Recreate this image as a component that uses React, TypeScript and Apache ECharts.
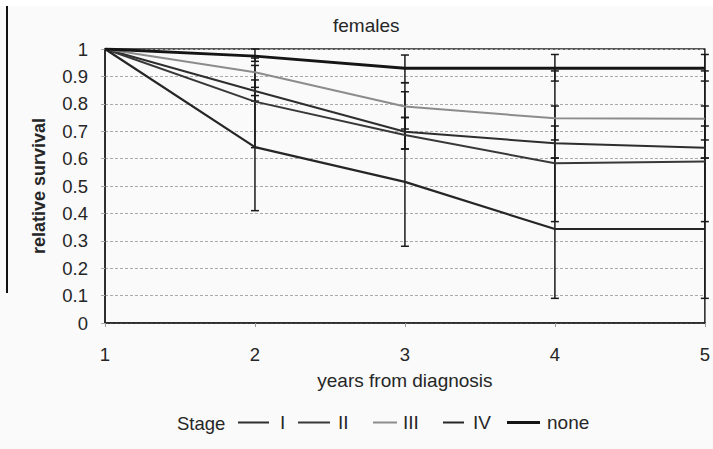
import React, { useEffect, useRef } from "react";
import * as echarts from "echarts";

const years = [1, 2, 3, 4, 5];
const stageNames = ["I", "II", "III", "IV", "none"];
const stageI = [1, 0.847, 0.698, 0.656, 0.64];
const stageII = [1, 0.808, 0.686, 0.583, 0.589];
const stageIII = [1, 0.915, 0.79, 0.747, 0.745];
const stageIV = [1, 0.642, 0.515, 0.343, 0.343];
const stageNone = [1, 0.974, 0.93, 0.93, 0.93];

// error bars: [year, lower, upper]
const errI = [[2, 0.81, 0.887], [3, 0.635, 0.75], [4, 0.602, 0.719], [5, 0.602, 0.719]];
const errII = [[2, 0.64, 0.94], [3, 0.635, 0.844], [4, 0.37, 0.792], [5, 0.37, 0.792]];
const errIII = [[2, 0.86, 0.967], [3, 0.708, 0.877], [4, 0.668, 0.92], [5, 0.668, 0.92]];
const errIV = [[2, 0.41, 0.83], [3, 0.28, 0.75], [4, 0.09, 0.602], [5, 0.09, 0.602]];
const errNone = [[2, 0.955, 1.0], [3, 0.877, 0.978], [4, 0.883, 0.98], [5, 0.883, 0.98]];

const yTicks = [0, 0.1, 0.2, 0.3, 0.4, 0.5, 0.6, 0.7, 0.8, 0.9, 1];

const FONT = "Liberation Sans, Arial, sans-serif";
const TXT = "#262626";

export default function App() {
  const ref = useRef<HTMLDivElement>(null);
  useEffect(() => {
    if (!ref.current) return;
    const chart = echarts.init(ref.current, undefined, { renderer: "svg" });
    const values = [stageI, stageII, stageIII, stageIV, stageNone];
    const errs = [errI, errII, errIII, errIV, errNone];
    const colors = ["#2e2e2e", "#383838", "#8c8c8c", "#262626", "#151515"];
    const widths = [2, 2, 2, 2.2, 3];
    const legendPos = [
      { left: 238, w: 31, pad: 6 },
      { left: 298, w: 32, pad: 3 },
      { left: 373, w: 24, pad: 1 },
      { left: 443, w: 21, pad: 4 },
      { left: 507, w: 33, pad: 2 },
    ];

    const lineSeries = stageNames.map((n, si) => ({
      name: n,
      type: "line",
      data: years.map((x, i) => [x, values[si][i]]),
      symbol: "none",
      color: colors[si],
      lineStyle: { color: colors[si], width: widths[si] },
      z: 3,
    }));

    const errSeries = stageNames.map((n, si) => ({
      name: "err-" + n,
      type: "custom",
      data: errs[si],
      encode: { x: 0, y: [1, 2] },
      z: 2,
      renderItem: (params: any, api: any) => {
        const x = api.value(0);
        const lo = api.coord([x, api.value(1)]);
        const hi = api.coord([x, api.value(2)]);
        const w = 4;
        const st = { stroke: "#1a1a1a", lineWidth: 1.5 };
        return {
          type: "group",
          children: [
            { type: "line", shape: { x1: lo[0], y1: lo[1], x2: hi[0], y2: hi[1] }, style: st },
            { type: "line", shape: { x1: lo[0] - w, y1: lo[1], x2: lo[0] + w, y2: lo[1] }, style: st },
            { type: "line", shape: { x1: hi[0] - w, y1: hi[1], x2: hi[0] + w, y2: hi[1] }, style: st },
          ],
        };
      },
    }));

    const legends = stageNames.map((n, si) => ({
      data: [n],
      left: legendPos[si].left,
      top: 413,
      padding: 0,
      itemWidth: legendPos[si].w,
      itemHeight: si === 4 ? 3 : 2,
      icon: "rect",
      selectedMode: false,
      textStyle: {
        fontSize: 19,
        fontFamily: FONT,
        color: TXT,
        padding: [0, 0, 0, legendPos[si].pad],
      },
    }));

    chart.setOption({
      animation: false,
      backgroundColor: "#fafafa",
      title: {
        text: "females",
        left: 333,
        top: 16,
        padding: 0,
        textStyle: { fontSize: 19, fontWeight: "normal", fontFamily: FONT, color: TXT },
      },
      legend: legends,
      grid: {
        left: 105,
        right: 6,
        top: 49,
        bottom: 126,
        show: true,
        borderColor: "#222",
        borderWidth: 1.5,
        backgroundColor: "transparent",
      },
      xAxis: {
        type: "value",
        min: 1,
        max: 5,
        interval: 1,
        name: "years from diagnosis",
        nameLocation: "middle",
        nameGap: 48,
        nameTextStyle: { fontSize: 19, fontFamily: FONT, color: TXT },
        axisLine: { show: true, lineStyle: { color: "#222", width: 1.5 } },
        axisTick: { show: true, length: 4, lineStyle: { color: "#999" } },
        axisLabel: { fontSize: 18.5, fontFamily: FONT, color: TXT, margin: 22 },
        splitLine: { show: false },
      },
      yAxis: {
        type: "value",
        min: 0,
        max: 1,
        interval: 0.1,
        name: "relative survival",
        nameLocation: "middle",
        nameGap: 57,
        nameTextStyle: { fontSize: 18, fontWeight: "bold", fontFamily: FONT, color: TXT, padding: [0, 0, 0, 0] },
        axisLine: { show: true, lineStyle: { color: "#222", width: 1.5 } },
        axisTick: { show: true, length: 4, lineStyle: { color: "#aaa" } },
        axisLabel: {
          fontSize: 18.5,
          fontFamily: FONT,
          color: TXT,
          margin: 17,
          formatter: (v: number) => {
            const t = yTicks.find((k) => Math.abs(k - v) < 1e-6);
            return String(t !== undefined ? t : Math.round(v * 10) / 10);
          },
        },
        splitLine: { show: true, lineStyle: { color: "#aaa", type: [3, 2], width: 1 } },
      },
      graphic: [
        { type: "rect", shape: { x: 0, y: 0, width: 713, height: 6 }, style: { fill: "#ffffff" }, silent: true },
        { type: "line", shape: { x1: 7, y1: 6, x2: 7, y2: 293 }, style: { stroke: "#111", lineWidth: 2 }, silent: true },
        {
          type: "text",
          x: 177,
          y: 423,
          style: {
            text: "Stage",
            fontSize: 18.5,
            fontFamily: FONT,
            fill: TXT,
            verticalAlign: "middle",
            align: "left",
          },
        },
      ],
      series: [...errSeries, ...lineSeries],
    });
    return () => chart.dispose();
  }, []);
  return (
    <div
      ref={ref}
      style={{ position: "fixed", left: 0, top: 0, width: 713, height: 449 }}
    />
  );
}
